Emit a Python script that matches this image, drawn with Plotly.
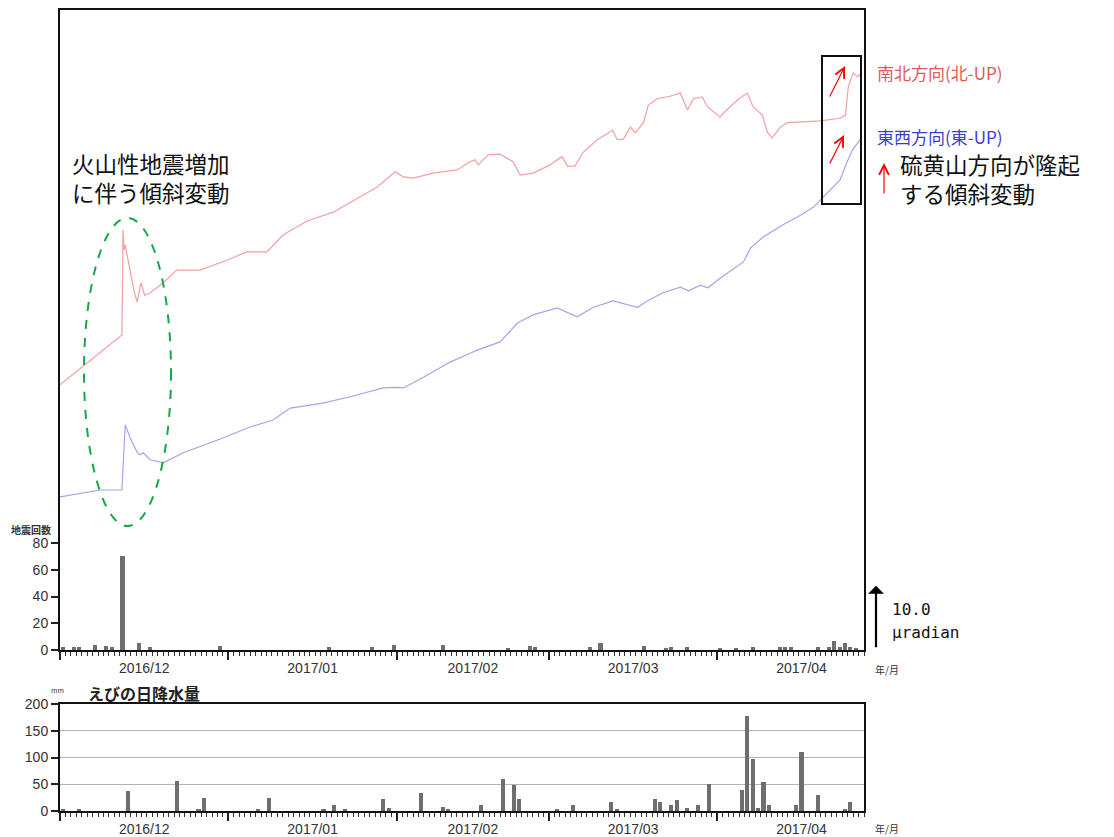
import pandas as pd
import plotly.graph_objects as go

# ---- tilt record (days since 2016-12-01, microradian) ----
start = pd.Timestamp("2016-12-01")

ns_days = [0.0, 11.4, 11.6, 11.8, 12.0, 12.5, 13.0, 13.6, 14.2, 14.9, 15.6, 16.6,
           19.0, 21.5, 25.8, 30.8, 34.4, 38.1, 41.1, 45.5, 50.3, 53.4, 58.4, 61.7,
           63.2, 65.0, 68.7, 73.1, 75.5, 76.4, 77.0, 78.8, 81.0, 83.4, 84.7, 87.1,
           90.2, 92.4, 93.4, 94.8, 96.3, 98.9, 101.7, 102.6, 103.7, 105.0, 105.9,
           107.4, 108.3, 109.9, 112.3, 114.2, 115.5, 116.6, 118.2, 119.2, 120.3,
           121.5, 122.1, 124.7, 126.5, 127.6, 129.3, 130.2, 131.1, 132.6, 133.9,
           136.8, 140.0, 143.6, 144.6, 145.1, 146.0, 146.8, 147.5]
ns_tilt = [42.1, 50.0, 66.7, 63.5, 64.3, 62.0, 60.3, 57.1, 55.2, 58.3, 56.3, 56.7,
           58.3, 60.3, 60.3, 61.9, 63.2, 63.2, 65.9, 68.1, 69.5, 71.0, 73.5, 75.9,
           75.1, 74.9, 75.7, 76.2, 77.5, 77.8, 77.0, 78.6, 78.7, 77.5, 75.4, 75.7,
           77.0, 78.3, 76.8, 76.8, 79.0, 81.0, 82.5, 81.0, 81.1, 83.0, 82.1,
           83.7, 86.5, 87.5, 87.9, 88.4, 85.7, 87.5, 87.8, 86.2, 85.4,
           84.6, 85.2, 87.3, 88.4, 86.2, 84.9, 82.2, 81.3, 83.0, 83.7,
           83.8, 84.0, 84.4, 84.9, 89.4, 91.6, 91.0, 91.6]

ew_days = [0.0, 7.4, 11.4, 12.0, 13.0, 14.2, 14.7, 15.3, 16.6, 19.0, 22.7, 28.9,
           35.0, 39.2, 42.4, 48.4, 53.4, 59.5, 62.1, 63.2, 66.9, 71.8, 75.5, 76.8,
           81.0, 84.2, 87.1, 91.5, 95.2, 98.2, 101.8, 104.4, 106.3, 108.1, 111.0,
           114.2, 115.7, 117.9, 119.3, 121.5, 125.8, 127.1, 129.5, 133.1, 136.3,
           138.7, 141.8, 143.6, 144.9, 145.9, 147.3]
ew_tilt = [24.3, 25.4, 25.4, 35.7, 33.5, 31.4, 31.0, 31.3, 30.2, 29.7, 31.3, 33.3,
           35.4, 36.5, 38.4, 39.2, 40.2, 41.6, 41.7, 41.6, 43.3, 45.7, 47.1, 47.6,
           48.9, 51.9, 53.2, 54.3, 52.9, 54.4, 55.4, 54.8, 54.4, 55.4, 56.7,
           57.6, 57.0, 57.9, 57.5, 59.0, 61.6, 63.8, 65.6, 67.5, 69.0,
           70.3, 73.0, 74.6, 77.5, 79.4, 81.0]

# ---- daily volcanic earthquake counts ----
eq_dates = ["2016-12-01", "2016-12-03", "2016-12-04", "2016-12-07", "2016-12-09",
            "2016-12-10", "2016-12-12", "2016-12-15", "2016-12-17", "2016-12-30",
            "2017-01-19", "2017-01-27", "2017-01-31", "2017-02-09", "2017-02-21",
            "2017-02-25", "2017-02-26", "2017-03-08", "2017-03-10", "2017-03-18",
            "2017-03-22", "2017-03-23", "2017-03-26", "2017-04-01", "2017-04-04",
            "2017-04-07", "2017-04-12", "2017-04-13", "2017-04-14", "2017-04-19",
            "2017-04-21", "2017-04-22", "2017-04-23", "2017-04-24", "2017-04-25",
            "2017-04-26"]
eq_counts = [2, 2, 2, 4, 3, 2, 70, 5, 2, 3, 2, 2, 4, 4, 1, 3, 2, 2, 5, 3, 1, 2, 2,
             1, 1, 2, 2, 2, 2, 2, 2, 7, 2, 5, 2, 1]

# ---- daily precipitation at Ebino (mm) ----
rain_dates = ["2016-12-01", "2016-12-04", "2016-12-13", "2016-12-22", "2016-12-26",
              "2016-12-27", "2017-01-06", "2017-01-08", "2017-01-18", "2017-01-20",
              "2017-01-22", "2017-01-29", "2017-01-30", "2017-02-05", "2017-02-09",
              "2017-02-10", "2017-02-16", "2017-02-20", "2017-02-22", "2017-02-23",
              "2017-03-02", "2017-03-05", "2017-03-12", "2017-03-13", "2017-03-20",
              "2017-03-21", "2017-03-23", "2017-03-24", "2017-03-26", "2017-03-28",
              "2017-03-30", "2017-04-05", "2017-04-06", "2017-04-07", "2017-04-08",
              "2017-04-09", "2017-04-10", "2017-04-15", "2017-04-16", "2017-04-19",
              "2017-04-24", "2017-04-25"]
rain_mm = [3, 4, 37, 56, 4, 24, 4, 25, 3, 12, 4, 23, 5, 34, 7, 4, 12, 59, 49, 22,
           4, 12, 17, 4, 22, 17, 12, 21, 6, 11, 50, 39, 178, 98, 6, 54, 12, 12, 110,
           29, 2, 17]

eq_ticks = [0, 20, 40, 60, 80]
rain_ticks = [0, 50, 100, 150, 200]
x_start, x_end = "2016-12-01", "2017-04-28"

W, H = 1114, 837
def px(x):
    return x / W
def py(y):
    return 1 - y / H

ns_x = start + pd.to_timedelta(ns_days, unit="D")
ew_x = start + pd.to_timedelta(ew_days, unit="D")
half_day = pd.Timedelta(hours=12)
eq_x = pd.to_datetime(eq_dates) + half_day
rain_x = pd.to_datetime(rain_dates) + half_day

TICKFONT = dict(family="Liberation Sans, Arial, sans-serif", size=14, color="#333")
JP = "Noto Sans CJK JP, sans-serif"
BAR = "#6e6e6e"
BAR_W = 3.6e6 * 18  # bar width in ms

fig = go.Figure()

fig.add_trace(go.Bar(x=eq_x, y=eq_counts, xaxis="x", yaxis="y",
                     marker=dict(color=BAR, line=dict(width=0)), width=BAR_W))
fig.add_trace(go.Scatter(x=ns_x, y=ns_tilt, xaxis="x", yaxis="y3", mode="lines",
                         line=dict(color="#f2a0a0", width=1.2)))
fig.add_trace(go.Scatter(x=ew_x, y=ew_tilt, xaxis="x", yaxis="y3", mode="lines",
                         line=dict(color="#a4a4ea", width=1.2)))
fig.add_trace(go.Bar(x=rain_x, y=rain_mm, xaxis="x2", yaxis="y2",
                     marker=dict(color=BAR, line=dict(width=0)), width=BAR_W))

xcommon = dict(
    type="date", range=[x_start, x_end], tick0="2016-12-01", dtick="M1",
    ticklabelmode="period", tickformat="%Y/%m", ticks="outside", ticklen=8,
    tickwidth=1.5, tickcolor="#222", showline=True, linecolor="#111", linewidth=2,
    mirror=True, showgrid=False, zeroline=False, tickfont=TICKFONT,
    automargin=False, ticklabelstandoff=-4,
    minor=dict(dtick=86400000, ticks="outside", ticklen=4, tickwidth=1,
               tickcolor="#333", showgrid=False),
)
ycommon = dict(ticks="outside", ticklen=7, tickwidth=1.5, tickcolor="#222",
               showline=True, linecolor="#111", linewidth=2, mirror=True,
               zeroline=False, tickfont=TICKFONT, automargin=False)

dom_x = [px(60), px(864)]
eq_dom = [py(650), py(10)]
rain_dom = [py(811), py(704)]
eq_top = 80 * (650 - 10) / (650 - 543)
tilt_top = (650 - 10) / 6.3

fig.update_layout(
    width=W, height=H, margin=dict(l=0, r=0, t=0, b=0, autoexpand=False),
    plot_bgcolor="white", paper_bgcolor="white", showlegend=False, bargap=0,
    xaxis=dict(domain=dom_x, anchor="y", **xcommon),
    yaxis=dict(domain=eq_dom, range=[0, eq_top], tickvals=eq_ticks,
               showgrid=False, **ycommon),
    yaxis3=dict(overlaying="y", range=[0, tilt_top], visible=False),
    xaxis2=dict(domain=dom_x, anchor="y2", **xcommon),
    yaxis2=dict(domain=rain_dom, range=[0, 200], tickvals=rain_ticks,
                showgrid=True, gridcolor="#b4b4b4", gridwidth=1, **ycommon),
)

ann = []
def text(x, y, s, size, color="#111", family=JP, xanchor="left", yanchor="middle"):
    ann.append(dict(x=px(x), y=py(y), xref="paper", yref="paper", text=s,
                    showarrow=False, xanchor=xanchor, yanchor=yanchor, align="left",
                    borderpad=0, font=dict(family=family, size=size, color=color)))

text(10, 529, "<b>地震回数</b>", 10, color="#333")
text(50, 690, "mm", 7, color="#333")
text(87, 693, "<b>えびの日降水量</b>", 16, color="#222")
text(874, 669, "年/月", 10, color="#333")
text(874, 828, "年/月", 10, color="#333")
text(891, 609, "10.0", 16, color="#111", family="DejaVu Sans Mono, monospace")
text(891, 632, "μradian", 16, color="#111", family="DejaVu Sans Mono, monospace")
text(876, 73, "南北方向(北-UP)", 17, color="#e05a5a")
text(876, 136, "東西方向(東-UP)", 17, color="#3c3cd2")
text(71, 178, "火山性地震増加<br>に伴う傾斜変動", 22.5)
text(899, 179, "硫黄山方向が隆起<br>する傾斜変動", 22.5)

# 10 microradian scale bar
ann.append(dict(x=px(876), y=10.2, xref="paper", yref="y3", ax=0, ay=63,
                showarrow=True, arrowhead=1, arrowsize=1.2, arrowwidth=2.2,
                arrowcolor="#000", text=""))

# red arrows marking the uplift
def red_arrow(x0, y0, x1, y1):
    ann.append(dict(x=px(x1), y=py(y1), xref="paper", yref="paper",
                    ax=x0 - x1, ay=y0 - y1, showarrow=True, arrowhead=5,
                    arrowsize=1.6, arrowwidth=1.2, arrowcolor="#ff0000", text=""))

red_arrow(829, 98, 845, 66)
red_arrow(829, 165, 844, 135)
red_arrow(884, 195, 884, 163)

fig.update_layout(annotations=ann)

fig.add_shape(type="rect", xref="paper", yref="paper",
              x0=px(822), x1=px(861), y0=py(204), y1=py(56),
              line=dict(color="#111", width=2))
fig.add_shape(type="circle", xref="paper", yref="paper",
              x0=px(84), x1=px(171), y0=py(526), y1=py(218),
              line=dict(color="#14a84a", width=2, dash="dash"))

fig.write_html("out.html")
